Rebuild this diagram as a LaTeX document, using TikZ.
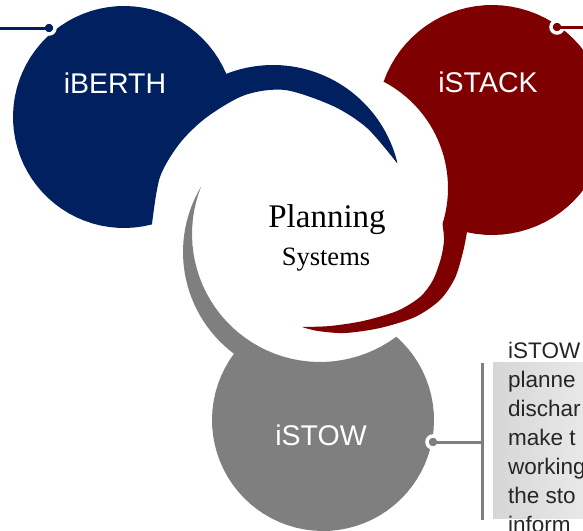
\documentclass[tikz,border=0pt]{standalone}
\usepackage{fontspec}
\setmainfont{Liberation Sans}
\newfontfamily\serifface{Liberation Serif}
\definecolor{berthblue}{RGB}{0,32,96}
\definecolor{stackred}{RGB}{127,0,0}
\definecolor{stowgray}{RGB}{127,127,127}
\definecolor{notegray}{RGB}{38,38,38}

\begin{document}
\begin{tikzpicture}[x=1pt,y=-1pt,
    label/.style={white,font=\fontsize{28.5}{30}\selectfont,anchor=base},
    pin/.style={circle,fill=#1,inner sep=0pt,minimum size=12pt,draw=white,line width=3.5pt},
    notes/.style={notegray,font=\fontsize{22.5}{24}\selectfont,anchor=base west,inner sep=0pt}]
  \useasboundingbox (0,0) rectangle (583,530);
  \clip (0,0) rectangle (583,530);

  % iBERTH: disk with its tail over the top
  \fill[berthblue] plot[domain=75.3:337.1,variable=\x,samples=60] ({124+111*cos(\x)},{117+111*sin(\x)})
    -- plot[domain=248.4:346.4,variable=\x,samples=40] ({273+128*cos(\x)},{193+128*sin(\x)})
    -- plot[smooth] coordinates {(397,163) (367,128) (333,106) (285,90) (245,95) (207,117) (180,143) (160,177) (152,224)}
    -- cycle;

  % iSTACK: disk with its tail down the right side
  \fill[stackred] plot[domain=-62.4:17.4,variable=\x,samples=30] ({328+120*cos(\x)},{188+120*sin(\x)})
    -- plot[smooth] coordinates {(442.5,224) (444,240) (441,258) (433,280) (420,297) (397,311) (363,321) (330,326) (302,327)}
    -- plot[smooth] coordinates {(302,327) (318,331) (345,333) (380,328) (415,317) (440,300) (455,278) (463,252) (467,232)}
    -- plot[domain=102.6:-160.7,variable=\x,samples=60] ({492+115*cos(\x)},{120+115*sin(\x)})
    -- cycle;

  % iSTOW: disk with its tail up the left side
  \fill[stowgray] plot[domain=-48.7:216.7,variable=\x,samples=60] ({323+111*cos(\x)},{420+111*sin(\x)})
    -- plot[domain=126.8:210.9,variable=\x,samples=30] ({310+127*cos(\x)},{252+127*sin(\x)})
    -- plot[domain=201.7:53.6,variable=\x,samples=40] ({320+128*cos(\x)},{234+128*sin(\x)})
    -- cycle;

  \node[label] (berth) at (115,93) {iBERTH};
  \node[label] (stack) at (488,92) {iSTACK};
  \node[label] (stow) at (321,445) {iSTOW};

  \node[font=\serifface\fontsize{33}{36}\selectfont,anchor=base] (planning) at (327,227) {Planning};
  \node[font=\serifface\fontsize{26.5}{28}\selectfont,anchor=base] (systems) at (326,265) {Systems};

  % pins and leader lines
  \node[pin=berthblue] (berthPin) at (49,28) {};
  \node[pin=stackred] (stackPin) at (557,27) {};
  \node[pin=stowgray] (stowPin) at (433,442) {};
  \coordinate (berthEnd) at (0,28);
  \coordinate (stackEnd) at (583,27);
  \coordinate (barMid) at (482,442);
  \coordinate (barTop) at (482,363);
  \coordinate (barBot) at (482,520);
  \draw[berthblue,line width=3pt] (berthEnd) -- (berthPin.center);
  \draw[stackred,line width=3pt] (stackPin.center) -- (stackEnd);
  \draw[stowgray,line width=3pt] (stowPin.center) -- (barMid);
  \draw[stowgray,line width=3pt] (barTop) -- (barBot);

  % note box for iSTOW
  \shade[left color=gray!32,right color=gray!18] (493,362) rectangle (583,518);
  \foreach \txt [count=\i] in {iSTOW,planne,dischar,make t,working,the sto,inform}
    \node[notes] (note\i) at (508,{329+29*\i}) {\txt};
\end{tikzpicture}
\end{document}
